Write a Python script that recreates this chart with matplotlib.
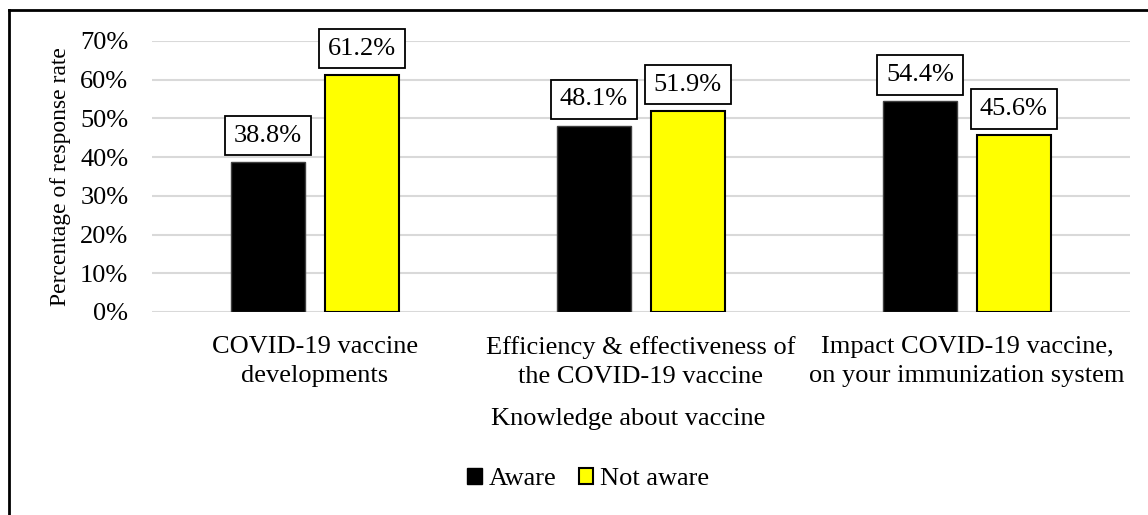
import matplotlib.pyplot as plt
from matplotlib.lines import Line2D
from matplotlib.patches import Patch
import numpy as np

categories = ['COVID-19 vaccine\ndevelopments',
              'Efficiency & effectiveness of\nthe COVID-19 vaccine',
              'Impact COVID-19 vaccine,\non your immunization system']
aware = [38.8, 48.1, 54.4]
not_aware = [61.2, 51.9, 45.6]
yticks = [0, 10, 20, 30, 40, 50, 60, 70]

plt.rcParams['font.family'] = 'Liberation Serif'
plt.rcParams['font.size'] = 19

fig = plt.figure(figsize=(11.48, 5.15), dpi=100)
ax = fig.add_axes([0.1324, 0.3942, 0.8519, 0.5262])

x = np.arange(len(categories))
w = 0.227
off = 0.144
b1 = ax.bar(x - off, aware, w, color='black', edgecolor='#404040', linewidth=1, zorder=3)
b2 = ax.bar(x + off, not_aware, w, color='#ffff00', edgecolor='black', linewidth=1.5, zorder=3)

for bars, vals in [(b1, aware), (b2, not_aware)]:
    for r, v in zip(bars, vals):
        ax.annotate('{0:.1f}%'.format(v), (r.get_x() + r.get_width() / 2, v),
                    xytext=(0, 11), textcoords='offset points',
                    ha='center', va='bottom', fontsize=19, zorder=5,
                    bbox=dict(boxstyle='square,pad=0.33', fc='white', ec='black', lw=1.3))

ax.set_xlim(-0.5, 2.5)
ax.set_ylim(0, 70)
ax.set_yticks(yticks)
ax.set_yticklabels(['{0}%'.format(t) for t in yticks])
ax.set_xticks(x)
ax.set_xticklabels(categories, linespacing=1.45)
ax.tick_params(length=0, pad=17)
ax.tick_params(axis='x', pad=17)
ax.grid(axis='y', color='#d9d9d9', linewidth=1.5, zorder=0)
for s in ax.spines.values():
    s.set_visible(False)

ax.set_ylabel('Percentage of response rate', fontsize=17)
ax.yaxis.set_label_coords(-0.083, 0.5)
fig.text(628 / 1148, 1 - 419 / 515, 'Knowledge about vaccine', ha='center', va='center')

handles = [Patch(facecolor='black', edgecolor='black'),
           Patch(facecolor='#ffff00', edgecolor='black', linewidth=1.5)]
fig.legend(handles, ['Aware', 'Not aware'], loc='center', bbox_to_anchor=(588 / 1148, 1 - 479 / 515),
           ncol=2, frameon=False, handlelength=0.55, handleheight=0.55,
           handletextpad=0.25, columnspacing=0.85, fontsize=19)

# outer frame (left and top edges)
fig.add_artist(Line2D([9 / 1148, 9 / 1148], [0, 1 - 10 / 515], color='black', lw=2, transform=fig.transFigure))
fig.add_artist(Line2D([9 / 1148, 1], [1 - 10 / 515, 1 - 10 / 515], color='black', lw=2, transform=fig.transFigure))

fig.savefig('out.png', dpi=100)
